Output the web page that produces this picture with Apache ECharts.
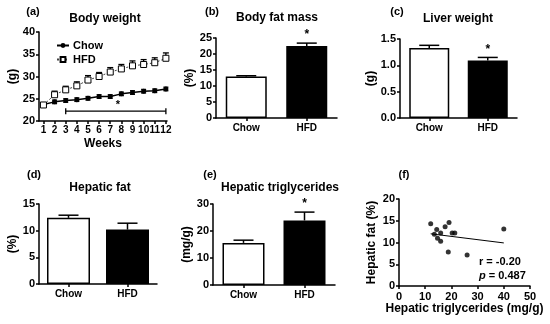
<!DOCTYPE html>
<html><head><meta charset="utf-8">
<script src="https://cdn.jsdelivr.net/npm/echarts@6/dist/echarts.min.js"></script>
<style>html,body{margin:0;padding:0;background:#fff}#c{width:550px;height:324px}</style>
</head><body><div id="c"></div>
<script>
// ---- data ----
const weeks = [1,2,3,4,5,6,7,8,9,10,11,12];
const chowWeight = [23.7,24.3,24.6,24.8,25.1,25.5,25.5,26.1,26.4,26.7,26.8,27.2];
const chowWeightErr = [0.4,0.4,0.4,0.4,0.4,0.4,0.4,0.4,0.4,0.4,0.4,0.4];
const hfdWeight = [23.6,25.9,27.0,27.9,29.2,30.0,31.0,31.7,32.4,32.7,33.1,34.1];
const hfdWeightErr = [0.4,0.8,0.8,0.9,1.0,0.9,1.0,1.0,1.1,1.1,1.1,1.2];
const sigWeeks = [3,12];
const sigLevel = 22.2;

const groups = ['Chow','HFD'];
const bodyFat = [13.0,22.5];      const bodyFatErr = [0.2,0.9];      const bodyFatSig = ['','*'];
const liverWeight = [1.33,1.09];  const liverWeightErr = [0.05,0.06]; const liverWeightSig = ['','*'];
const hepaticFat = [12.4,10.2];   const hepaticFatErr = [0.5,1.2];   const hepaticFatSig = ['',''];
const hepaticTG = [15.6,23.9];    const hepaticTGErr = [1.0,3.1];    const hepaticTGSig = ['','*'];

const scatterTG  = [12.1,13.5,14.4,14.7,15.9,15.9,17.6,19.1,18.8,20.3,21.3,26.0,40.0];
const scatterFat = [14.3,11.9,13.0,11.0,12.2,10.3,13.6,14.6,7.8,12.2,12.2,7.1,13.1];
const fitX = [12.1,40.0];
const fitY = [12.0,9.9];

// ---- style ----
const FF = 'Liberation Sans, Arial, sans-serif';
const axisLine = {show:true, lineStyle:{color:'#000', width:1.5}};
const axisTick = {show:true, inside:false, length:3, lineStyle:{color:'#000', width:1.5}};
const lab = (sz)=>({color:'#000', fontFamily:FF, fontWeight:'bold', fontSize:sz});

const grids = [
  {left:39, top:32, width:128, height:89},
  {left:216, top:38, width:121, height:80},
  {left:400, top:39, width:117, height:79},
  {left:39, top:204, width:118, height:80},
  {left:213, top:204, width:122, height:81},
  {left:399, top:199, width:131, height:87}
];
grids.forEach(g=>{g.containLabel=false;});

const xAxes = [], yAxes = [], series = [];

// panel a
xAxes.push({gridIndex:0, type:'value', min:0.6, max:12.1, axisLine, axisTick:Object.assign({customValues:weeks}, axisTick),
  axisLabel:Object.assign({customValues:weeks, margin:4}, lab(10)), splitLine:{show:false},
  name:'Weeks', nameLocation:'middle', nameGap:17, nameTextStyle:lab(12)});
yAxes.push({gridIndex:0, type:'value', min:20, max:40, interval:5, axisLine, axisTick,
  axisLabel:Object.assign({margin:4}, lab(11)), splitLine:{show:false},
  name:'(g)', nameLocation:'middle', nameGap:20, nameTextStyle:lab(12)});

series.push({name:'Chow', type:'line', xAxisIndex:0, yAxisIndex:0, data:weeks.map((w,i)=>[w,chowWeight[i]]),
  symbol:'circle', symbolSize:5, itemStyle:{color:'#000'}, lineStyle:{color:'#000', width:1.5}, z:5});
series.push({name:'HFD', type:'line', xAxisIndex:0, yAxisIndex:0, data:weeks.map((w,i)=>[w,hfdWeight[i]]),
  symbol:'rect', symbolSize:6, itemStyle:{color:'#fff', borderColor:'#000', borderWidth:1},
  lineStyle:{color:'#444', width:1, type:[2,2]}, z:5});

function errSeries(xi, data, capHalf, both){
  return {type:'custom', xAxisIndex:xi, yAxisIndex:xi, data, z:4, silent:true,
    renderItem:function(params, api){
      const x=api.value(0), y=api.value(1), e=api.value(2);
      const pt=api.coord([x,y+e]); const pb=api.coord([x, both? y-e : y]);
      const st={stroke:'#000', lineWidth:1.3};
      const ch=[
        {type:'line', shape:{x1:pt[0],y1:pt[1],x2:pb[0],y2:pb[1]}, style:st},
        {type:'line', shape:{x1:pt[0]-capHalf,y1:pt[1],x2:pt[0]+capHalf,y2:pt[1]}, style:st}
      ];
      if(both) ch.push({type:'line', shape:{x1:pb[0]-capHalf,y1:pb[1],x2:pb[0]+capHalf,y2:pb[1]}, style:st});
      return {type:'group', children:ch};
    }};
}
series.push(errSeries(0, weeks.map((w,i)=>[w,chowWeight[i],chowWeightErr[i]]), 2.5, true));
series.push(errSeries(0, weeks.map((w,i)=>[w,hfdWeight[i],hfdWeightErr[i]]), 3, false));
// significance bracket
series.push({type:'custom', xAxisIndex:0, yAxisIndex:0, data:[[sigWeeks[0], sigWeeks[1], sigLevel]], silent:true,
  renderItem:function(params, api){
    const a=api.coord([api.value(0), api.value(2)]), b=api.coord([api.value(1), api.value(2)]);
    const st={stroke:'#000', lineWidth:1.3};
    return {type:'group', children:[
      {type:'line', shape:{x1:a[0],y1:a[1],x2:b[0],y2:b[1]}, style:st},
      {type:'line', shape:{x1:a[0],y1:a[1]-3,x2:a[0],y2:a[1]+3}, style:st},
      {type:'line', shape:{x1:b[0],y1:b[1]-3,x2:b[0],y2:b[1]+3}, style:st},
      {type:'text', style:{text:'*', x:(a[0]+b[0])/2+2, y:a[1]-1, textAlign:'center', textVerticalAlign:'bottom', font:'bold 11px '+FF, fill:'#000'}}
    ]};
  }});

// bar panels
function barPanel(gi, vals, errs, sig, yMin, yMax, yInt, yName, yDec, barW, nameGap){
  xAxes.push({gridIndex:gi, type:'category', data:groups, axisLine, axisTick:Object.assign({alignWithLabel:true}, axisTick),
    axisLabel:Object.assign({margin:5}, lab(10)), splitLine:{show:false}});
  yAxes.push({gridIndex:gi, type:'value', min:yMin, max:yMax, interval:yInt, axisLine, axisTick,
    axisLabel:Object.assign({margin:4, formatter:v=>v.toFixed(yDec)}, lab(11)), splitLine:{show:false},
    name:yName, nameLocation:'middle', nameGap:nameGap, nameTextStyle:lab(12)});
  series.push({type:'bar', xAxisIndex:gi, yAxisIndex:gi, barWidth:barW, z:2,
    data:vals.map((v,i)=>({value:v, itemStyle: i===0 ? {color:'#fff', borderColor:'#000', borderWidth:1.5} : {color:'#000', borderColor:'#000', borderWidth:1.5}}))});
  series.push({type:'custom', xAxisIndex:gi, yAxisIndex:gi, z:3, silent:true, data:vals.map((v,i)=>[i,v,errs[i]]),
    renderItem:function(params, api){
      const i=api.value(0), v=api.value(1), e=api.value(2);
      const pt=api.coord([i,v+e]), pb=api.coord([i,v]);
      const st={stroke:'#000', lineWidth:1.5};
      const ch=[
        {type:'line', shape:{x1:pt[0],y1:pt[1],x2:pb[0],y2:pb[1]}, style:st},
        {type:'line', shape:{x1:pt[0]-10,y1:pt[1],x2:pt[0]+10,y2:pt[1]}, style:st}
      ];
      if(sig[i]) ch.push({type:'text', style:{text:sig[i], x:pt[0], y:pt[1]-2, textAlign:'center', textVerticalAlign:'bottom', font:'bold 12px '+FF, fill:'#000'}});
      return {type:'group', children:ch};
    }});
}
barPanel(1, bodyFat, bodyFatErr, bodyFatSig, 0, 25, 5, '(%)', 0, 41, 18);
barPanel(2, liverWeight, liverWeightErr, liverWeightSig, 0, 1.5, 0.5, '(g)', 1, 40, 23);
barPanel(3, hepaticFat, hepaticFatErr, hepaticFatSig, 0, 15, 5, '(%)', 0, 43, 20);
barPanel(4, hepaticTG, hepaticTGErr, hepaticTGSig, 0, 30, 10, '(mg/g)', 0, 42, 17);

// panel f
xAxes.push({gridIndex:5, type:'value', min:0, max:50, interval:10, axisLine, axisTick,
  axisLabel:Object.assign({margin:5}, lab(11)), splitLine:{show:false},
  name:'Hepatic triglycerides (mg/g)', nameLocation:'middle', nameGap:17, nameTextStyle:lab(12)});
yAxes.push({gridIndex:5, type:'value', min:0, max:20, interval:5, axisLine, axisTick,
  axisLabel:Object.assign({margin:4}, lab(11)), splitLine:{show:false},
  name:'Hepatic fat (%)', nameLocation:'middle', nameGap:21, nameTextStyle:lab(12)});
series.push({type:'scatter', xAxisIndex:5, yAxisIndex:5, data:scatterTG.map((x,i)=>[x,scatterFat[i]]),
  symbol:'circle', symbolSize:5, itemStyle:{color:'#000'}});
series.push({type:'line', xAxisIndex:5, yAxisIndex:5, data:fitX.map((x,i)=>[x,fitY[i]]),
  showSymbol:false, symbol:'none', lineStyle:{color:'#000', width:1}, silent:true});

const txt=(t,x,y,sz,align)=>({type:'text', x:x, y:y, style:{text:t, font:'bold '+sz+'px '+FF, fill:'#000', textAlign:align||'center', textVerticalAlign:'middle'}});
const graphics = [
  txt('(a)',33,12,11), txt('Body weight',105,19,12),
  txt('(b)',212,12,11), txt('Body fat mass',277,18,12),
  txt('(c)',397,12,11), txt('Liver weight',458,19,12),
  txt('(d)',34,175,11), txt('Hepatic fat',100,188,12),
  txt('(e)',210,175,11), txt('Hepatic triglycerides',280,188,12),
  txt('(f)',404,175,11),
  txt('r = -0.20',479,262,11,'left'),
  {type:'text', x:479, y:276, style:{rich:{i:{fontStyle:'italic', fontWeight:'bold', fontSize:11, fontFamily:FF, fill:'#000'}, n:{fontWeight:'bold', fontSize:11, fontFamily:FF, fill:'#000'}}, text:'{i|p}{n| = 0.487}', textAlign:'left', textVerticalAlign:'middle'}}
];

const chart = echarts.init(document.getElementById('c'), null, {renderer:'canvas'});
chart.setOption({
  animation:false, backgroundColor:'#fff',
  grid:grids, xAxis:xAxes, yAxis:yAxes, series:series,
  legend:{data:['Chow','HFD'], left:51, top:35, orient:'vertical', itemWidth:12, itemHeight:6, itemGap:3,
    textStyle:Object.assign({padding:[0,0,0,-1]}, lab(11))},
  graphic:graphics
});
</script></body></html>
